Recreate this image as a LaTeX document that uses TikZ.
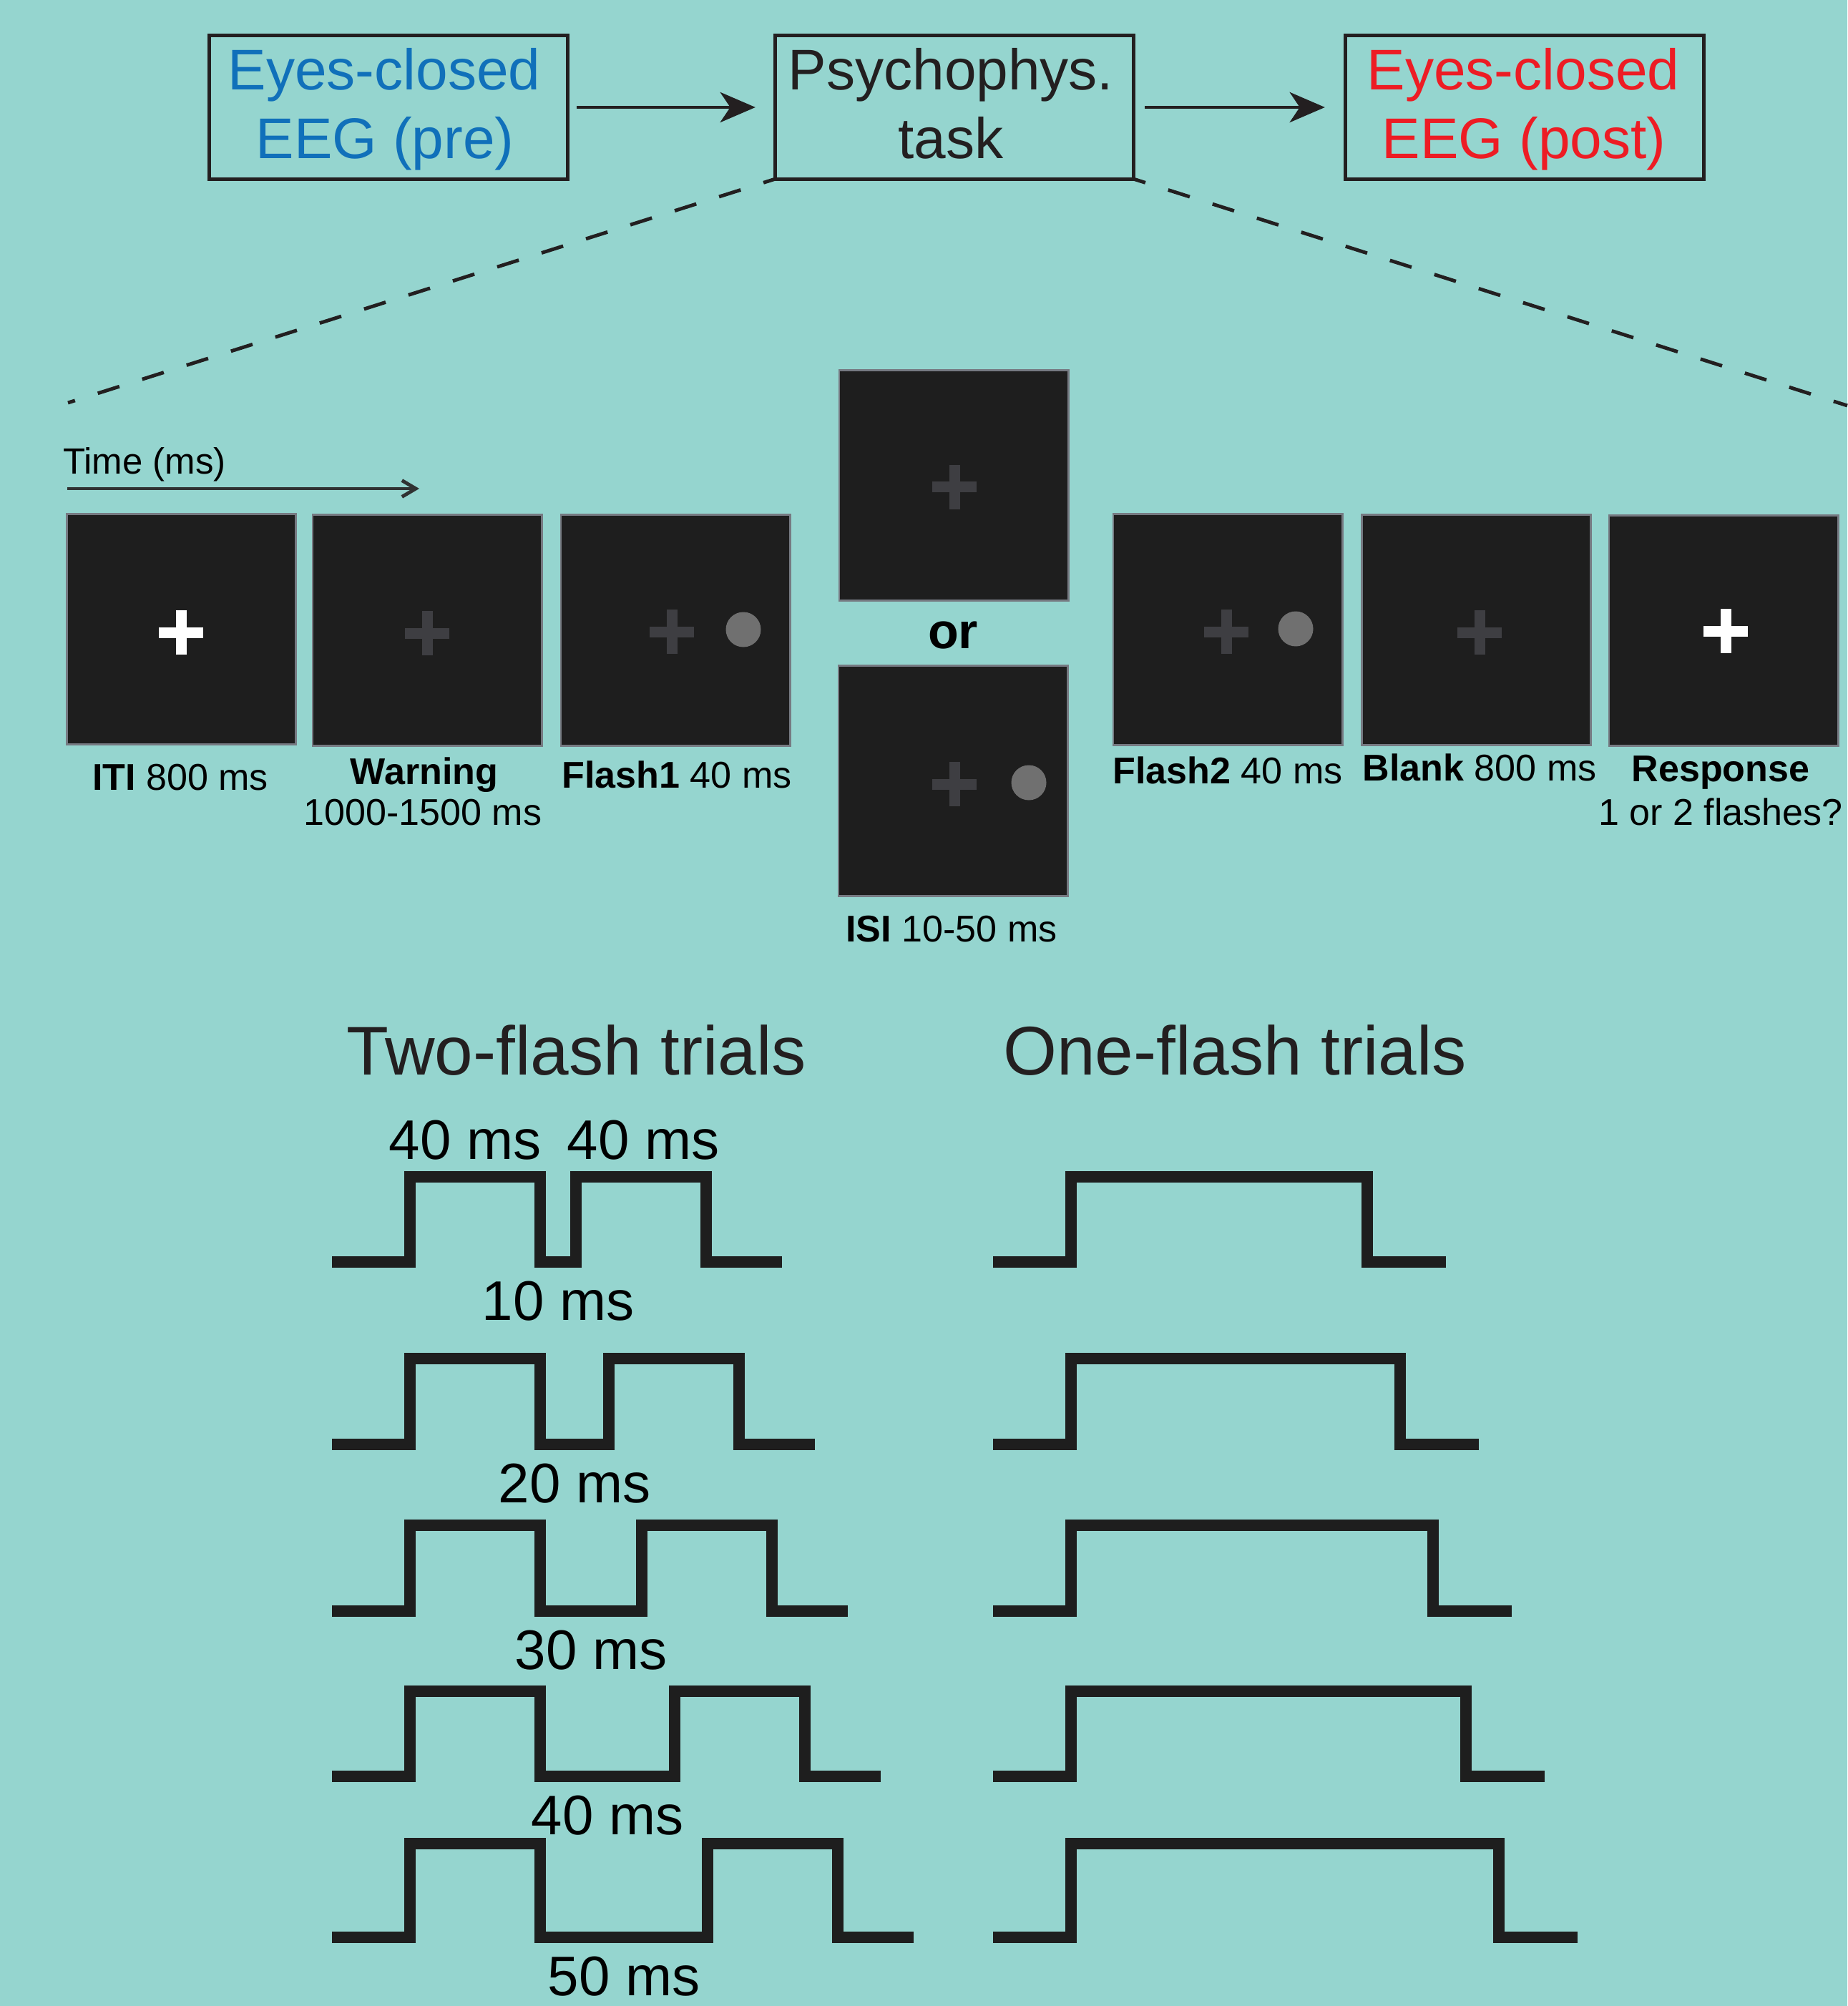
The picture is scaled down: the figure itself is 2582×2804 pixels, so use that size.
\documentclass[tikz,border=0pt]{standalone}
\usepackage{fontspec}
\setmainfont{Liberation Sans}
\usetikzlibrary{arrows.meta}

\definecolor{bgteal}{RGB}{149,213,207}
\definecolor{inkdark}{RGB}{35,31,32}
\definecolor{eegblue}{RGB}{16,112,186}
\definecolor{eegred}{RGB}{237,28,36}
\definecolor{screenfill}{RGB}{30,30,30}
\definecolor{screenedge}{RGB}{118,122,130}
\definecolor{dimcross}{RGB}{62,62,66}
\definecolor{flashdot}{RGB}{112,112,112}
\definecolor{timegray}{RGB}{48,50,50}
\definecolor{wavecol}{RGB}{30,30,30}

\tikzset{
  stagebox/.style={draw=inkdark, line width=1.4pt, minimum width=5.0cm,
    minimum height=2.0cm, inner sep=0pt, outer sep=0pt},
  boxtext/.style={anchor=base, inner sep=0pt, font=\fontsize{22.8}{27}\selectfont},
  flowarrow/.style={draw=inkdark, line width=1.3pt,
    -{Stealth[length=14pt, width=12pt, inset=4pt]}},
  zoomline/.style={draw=inkdark, line width=1.4pt,
    dash pattern=on 9pt off 9.5pt, dash phase=4pt},
  timearrow/.style={draw=timegray, line width=1.4pt,
    -{Straight Barb[length=5.5pt, width=6.5pt]}},
  screen/.style={fill=screenfill, draw=screenedge, line width=0.8pt,
    minimum width=3.2cm, minimum height=3.22cm, inner sep=0pt},
  lbl/.style={anchor=base, inner sep=0pt, font=\fontsize{14.8}{17.8}\selectfont},
  orlbl/.style={anchor=base, inner sep=0pt, font=\fontsize{19.9}{24}\selectfont\bfseries},
  heading/.style={anchor=base, inner sep=0pt, text=inkdark,
    font=\fontsize{27.4}{32}\selectfont},
  mslbl/.style={anchor=base, inner sep=0pt, font=\fontsize{22.2}{26}\selectfont},
  wave/.style={draw=wavecol, line width=4.4pt, line join=miter, line cap=butt},
  fixcross/.pic={
    \fill[pic actions] (-31,-7.5) rectangle (31,7.5);
    \fill[pic actions] (-7.5,-31) rectangle (7.5,31);
  }
}

\begin{document}
\begin{tikzpicture}[x=0.01cm, y=-0.01cm]
  % canvas
  \fill[bgteal] (0,0) rectangle (2582,2804);
  \useasboundingbox (0,0) rectangle (2582,2804);

  % ---- session overview ----
  \node[stagebox] (pre)  at (543,150)  {};
  \node[stagebox] (task) at (1334,150) {};
  \node[stagebox] (post) at (2131,150) {};

  \node[boxtext, text=eegblue] (preA)  at (537,126)  {Eyes-closed};
  \node[boxtext, text=eegblue] (preB)  at (538,222)  {EEG (pre)};
  \node[boxtext, text=inkdark] (taskA) at (1329,126) {Psychophys.};
  \node[boxtext, text=inkdark] (taskB) at (1329,222) {task};
  \node[boxtext, text=eegred]  (postA) at (2129,126) {Eyes-closed};
  \node[boxtext, text=eegred]  (postB) at (2130,222) {EEG (post)};

  \draw[flowarrow, shorten <=0.13cm, shorten >=0.28cm] (pre.east) -- (task.west);
  \draw[flowarrow, shorten <=0.16cm, shorten >=0.29cm] (task.east) -- (post.west);

  % zoom-out lines from the task box
  \coordinate (zoomL) at (95,563);
  \coordinate (zoomR) at (2582,567);
  \draw[zoomline] (task.south west) -- (zoomL);
  \draw[zoomline] (task.south east) -- (zoomR);

  % ---- trial sequence ----
  \node[anchor=base, inner sep=0pt, font=\fontsize{14.5}{17}\selectfont]
    (timelbl) at (202,663) {Time (ms)};
  \coordinate (timeA) at (94,683);
  \coordinate (timeB) at (586,683);
  \draw[timearrow] (timeA) -- (timeB);

  \node[screen] (iti)   at (253.5,879.5) {};
  \node[screen] (warn)  at (597,881)     {};
  \node[screen] (fl1)   at (944,881)     {};
  \node[screen] (isiA)  at (1333,678.5)  {};
  \node[screen] (isiB)  at (1332,1091.5) {};
  \node[screen] (fl2)   at (1716,880)    {};
  \node[screen] (blank) at (2063.5,880.5){};
  \node[screen] (resp)  at (2409,881.5)  {};

  % fixation crosses and flashes
  \pic[fill=white]    at (253,884)  {fixcross};
  \pic[fill=dimcross] at (597,885)  {fixcross};
  \pic[fill=dimcross] at (939,883)  {fixcross};
  \fill[flashdot] (1039,880) circle[radius=24.5];
  \pic[fill=dimcross] at (1334,681) {fixcross};
  \pic[fill=dimcross] at (1334,1096) {fixcross};
  \fill[flashdot] (1438,1094) circle[radius=24.5];
  \pic[fill=dimcross] at (1714,883) {fixcross};
  \fill[flashdot] (1811,879) circle[radius=24.5];
  \pic[fill=dimcross] at (2068,884) {fixcross};
  \pic[fill=white]    at (2412,882) {fixcross};

  % screen labels
  \node[lbl] (itiL)   at (252,1104)  {\textbf{ITI} 800 ms};
  \node[lbl] (warnL)  at (593,1096)  {\textbf{Warning}};
  \node[lbl] (warnL2) at (591,1153)  {1000-1500 ms};
  \node[lbl] (fl1L)   at (946,1101)  {\textbf{Flash1} 40 ms};
  \node[orlbl] (orL)  at (1332,906)  {or};
  \node[lbl] (isiL)   at (1330,1316) {\textbf{ISI} 10-50 ms};
  \node[lbl] (fl2L)   at (1716,1095) {\textbf{Flash2} 40 ms};
  \node[lbl] (blankL) at (2068,1091) {\textbf{Blank} 800 ms};
  \node[lbl] (respL)  at (2405,1092) {\textbf{Response}};
  \node[lbl] (respL2) at (2405,1153) {1 or 2 flashes?};

  % ---- stimulus timing ----
  \node[heading] (twoH) at (806,1502)  {Two-flash trials};
  \node[heading] (oneH) at (1726,1502) {One-flash trials};

  \node[mslbl] (dur1) at (650,1620) {40 ms};
  \node[mslbl] (dur2) at (899,1620) {40 ms};

  \foreach \k/\H/\L in {1/1645/1764, 2/1899/2019, 3/2132/2252, 4/2364/2483, 5/2577/2708}{
    \pgfmathsetmacro{\g}{46*\k+4}
    \pgfmathsetmacro{\ra}{755+\g}
    \pgfmathsetmacro{\fa}{937+\g}
    \pgfmathsetmacro{\ea}{1043+\g}
    \draw[wave] (464,\L) -- (573,\L) -- (573,\H) -- (755,\H) -- (755,\L)
      -- (\ra,\L) -- (\ra,\H) -- (\fa,\H) -- (\fa,\L) -- (\ea,\L);
    \pgfmathtruncatemacro{\isi}{10*\k}
    \node[mslbl] (gap\k) at ({755+\g/2},{\L+81}) {\isi\ ms};
    % one-flash counterpart: one long pulse
    \pgfmathsetmacro{\fo}{1865+46*\k}
    \pgfmathsetmacro{\eo}{1975+46*\k}
    \draw[wave] (1388,\L) -- (1497,\L) -- (1497,\H) -- (\fo,\H) -- (\fo,\L) -- (\eo,\L);
  }
\end{tikzpicture}
\end{document}
